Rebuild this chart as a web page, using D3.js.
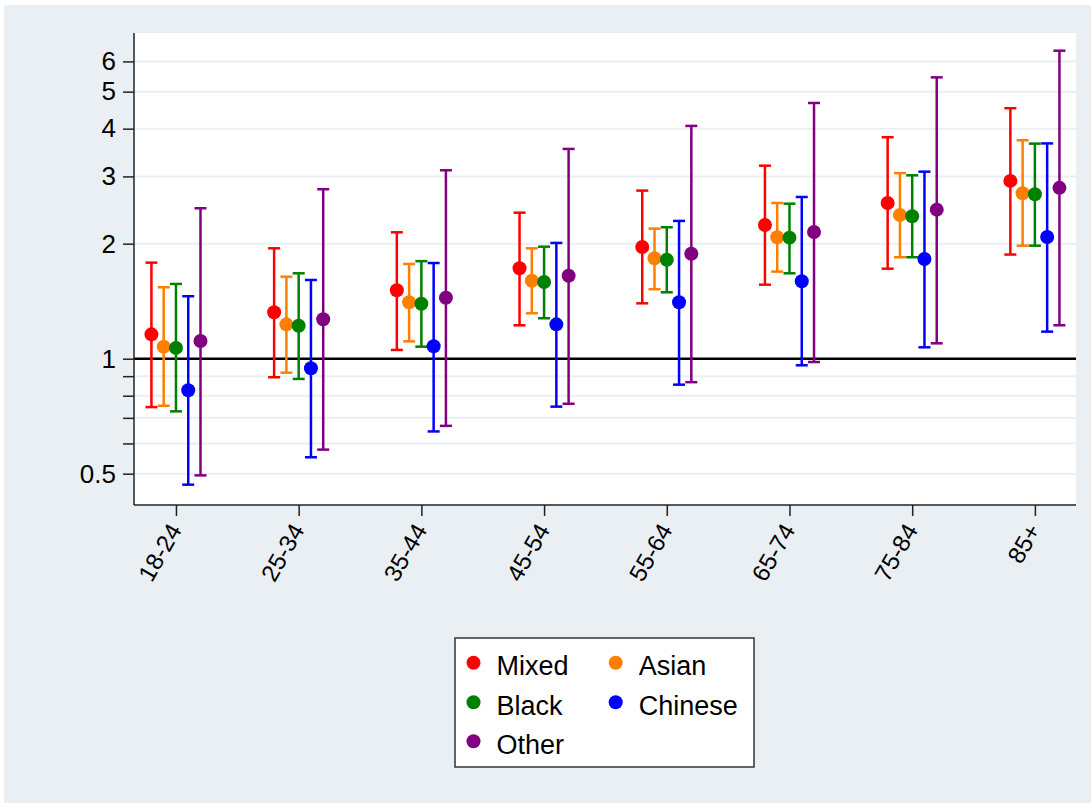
<!DOCTYPE html>
<html>
<head>
<meta charset="utf-8">
<script src="https://cdn.jsdelivr.net/npm/d3@7"></script>
<style>
  html, body { margin: 0; padding: 0; background: #ffffff; }
  svg { display: block; font-family: "Liberation Sans", Arial, Helvetica, sans-serif; }
</style>
</head>
<body>
<svg id="chart" width="1091" height="803"></svg>
<script>
// ---- data ----
const ages = ["18-24", "25-34", "35-44", "45-54", "55-64", "65-74", "75-84", "85+"];
const seriesNames = ["Mixed", "Asian", "Black", "Chinese", "Other"];
const seriesColors = ["#ff0000", "#ff7f00", "#008000", "#0000ff", "#800080"];

const mixedEst = [1.158, 1.323, 1.51, 1.724, 1.96, 2.239, 2.556, 2.92];
const mixedLo  = [0.747, 0.894, 1.054, 1.223, 1.396, 1.562, 1.72, 1.873];
const mixedHi  = [1.784, 1.945, 2.142, 2.411, 2.754, 3.2, 3.80, 4.525];

const asianEst = [1.075, 1.23, 1.405, 1.6, 1.832, 2.079, 2.377, 2.71];
const asianLo  = [0.753, 0.919, 1.11, 1.315, 1.52, 1.69, 1.843, 1.976];
const asianHi  = [1.538, 1.639, 1.77, 1.945, 2.19, 2.556, 3.06, 3.73];

const blackEst = [1.067, 1.22, 1.393, 1.588, 1.816, 2.074, 2.36, 2.694];
const blackLo  = [0.728, 0.885, 1.075, 1.276, 1.492, 1.673, 1.843, 1.976];
const blackHi  = [1.569, 1.673, 1.80, 1.964, 2.208, 2.545, 3.02, 3.655];

const chineseEst = [0.827, 0.944, 1.078, 1.23, 1.405, 1.595, 1.824, 2.083];
const chineseLo  = [0.468, 0.552, 0.645, 0.749, 0.855, 0.961, 1.071, 1.177];
const chineseHi  = [1.457, 1.607, 1.78, 2.009, 2.294, 2.65, 3.087, 3.66];

const otherEst = [1.112, 1.268, 1.444, 1.649, 1.883, 2.146, 2.455, 2.80];
const otherLo  = [0.495, 0.578, 0.667, 0.762, 0.868, 0.98, 1.097, 1.223];
const otherHi  = [2.476, 2.777, 3.113, 3.54, 4.067, 4.67, 5.45, 6.40];

const yTickValues = [0.5, 0.6, 0.7, 0.8, 0.9, 1, 2, 3, 4, 5, 6];
const yLabelled = [0.5, 1, 2, 3, 4, 5, 6];
const seriesOffsets = [-0.2, -0.1, 0, 0.1, 0.2];

const series = [
  { name: seriesNames[0], color: seriesColors[0], est: mixedEst, lo: mixedLo, hi: mixedHi, off: seriesOffsets[0] },
  { name: seriesNames[1], color: seriesColors[1], est: asianEst, lo: asianLo, hi: asianHi, off: seriesOffsets[1] },
  { name: seriesNames[2], color: seriesColors[2], est: blackEst, lo: blackLo, hi: blackHi, off: seriesOffsets[2] },
  { name: seriesNames[3], color: seriesColors[3], est: chineseEst, lo: chineseLo, hi: chineseHi, off: seriesOffsets[3] },
  { name: seriesNames[4], color: seriesColors[4], est: otherEst, lo: otherLo, hi: otherHi, off: seriesOffsets[4] }
];

// ---- layout ----
const W = 1091, H = 803;
const plot = { left: 134, right: 1076, top: 33, bottom: 505 };
const bg = "#e9eff2";

const svg = d3.select("#chart");

svg.append("rect").attr("x", 4).attr("y", 5).attr("width", W - 4).attr("height", H - 5).attr("fill", bg);
svg.append("rect").attr("x", plot.left).attr("y", plot.top)
  .attr("width", plot.right - plot.left).attr("height", plot.bottom - plot.top).attr("fill", "#ffffff");

const x = d3.scaleLinear().domain([0.658, 8.335]).range([plot.left, plot.right]);
const y = d3.scaleLog().domain([0.414, 7.12]).range([plot.bottom, plot.top]);

// gridlines
svg.append("g").selectAll("line").data(yTickValues).join("line")
  .attr("x1", plot.left).attr("x2", plot.right)
  .attr("y1", d => y(d)).attr("y2", d => y(d))
  .attr("stroke", bg).attr("stroke-width", 2);

// reference line at 1
svg.append("line")
  .attr("x1", plot.left).attr("x2", plot.right)
  .attr("y1", y(1)).attr("y2", y(1))
  .attr("stroke", "#000").attr("stroke-width", 2.5);

// y axis
const yAxis = d3.axisLeft(y).tickValues(yTickValues)
  .tickFormat(d => yLabelled.includes(d) ? d3.format("~g")(d) : "")
  .tickSize(11).tickSizeOuter(0).tickPadding(7);
const gy = svg.append("g").attr("transform", `translate(${plot.left},0)`).call(yAxis);
gy.select(".domain").attr("stroke", "#222").attr("stroke-width", 1.5)
  .attr("d", `M0,${plot.top}V${plot.bottom}`);
gy.selectAll(".tick line").attr("stroke", "#222").attr("stroke-width", 1.5);
gy.selectAll(".tick text").attr("font-size", 26).attr("fill", "#000")
  .attr("font-family", '"Liberation Sans", Arial, sans-serif');

// x axis
const xAxis = d3.axisBottom(x).tickValues(d3.range(1, ages.length + 1))
  .tickFormat(d => ages[d - 1]).tickSize(11).tickSizeOuter(0);
const gx = svg.append("g").attr("transform", `translate(0,${plot.bottom})`).call(xAxis);
gx.select(".domain").attr("stroke", "#222").attr("stroke-width", 1.5)
  .attr("d", `M${plot.left},0H${plot.right}`);
gx.selectAll(".tick line").attr("stroke", "#222").attr("stroke-width", 1.5);
gx.selectAll(".tick text")
  .attr("font-size", 24).attr("fill", "#000")
  .attr("font-family", '"Liberation Sans", Arial, sans-serif')
  .attr("x", 0).attr("y", 0).attr("dy", 0)
  .attr("text-anchor", "end")
  .attr("transform", "translate(6,25) rotate(-60)");

// error bars and points
const capHalf = 6;
const gS = svg.append("g");
series.forEach(s => {
  const g = gS.append("g");
  const idx = d3.range(ages.length);
  const cx = i => x(i + 1 + s.off);
  g.selectAll("line.v").data(idx).join("line").attr("class", "v")
    .attr("x1", cx).attr("x2", cx)
    .attr("y1", i => y(s.lo[i])).attr("y2", i => y(s.hi[i]))
    .attr("stroke", s.color).attr("stroke-width", 2.5);
  g.selectAll("line.ct").data(idx).join("line").attr("class", "ct")
    .attr("x1", i => cx(i) - capHalf).attr("x2", i => cx(i) + capHalf)
    .attr("y1", i => y(s.hi[i])).attr("y2", i => y(s.hi[i]))
    .attr("stroke", s.color).attr("stroke-width", 2.5);
  g.selectAll("line.cb").data(idx).join("line").attr("class", "cb")
    .attr("x1", i => cx(i) - capHalf).attr("x2", i => cx(i) + capHalf)
    .attr("y1", i => y(s.lo[i])).attr("y2", i => y(s.lo[i]))
    .attr("stroke", s.color).attr("stroke-width", 2.5);
  g.selectAll("circle").data(idx).join("circle")
    .attr("cx", cx).attr("cy", i => y(s.est[i])).attr("r", 7)
    .attr("fill", s.color);
});

// legend
const leg = svg.append("g");
leg.append("rect").attr("x", 455).attr("y", 638).attr("width", 299).attr("height", 129)
  .attr("fill", "#fff").attr("stroke", "#333").attr("stroke-width", 1.5);
const legCols = [473.5, 615.7];
const legRows = [662.7, 702.3, 741.3];
series.forEach((s, i) => {
  const col = i % 2, row = Math.floor(i / 2);
  const mx = legCols[col], my = legRows[row];
  leg.append("circle").attr("cx", mx).attr("cy", my).attr("r", 7).attr("fill", s.color);
  leg.append("text").attr("x", mx + 23).attr("y", my + 12.3)
    .attr("font-size", 27).attr("fill", "#000").text(s.name);
});
</script>
</body>
</html>
